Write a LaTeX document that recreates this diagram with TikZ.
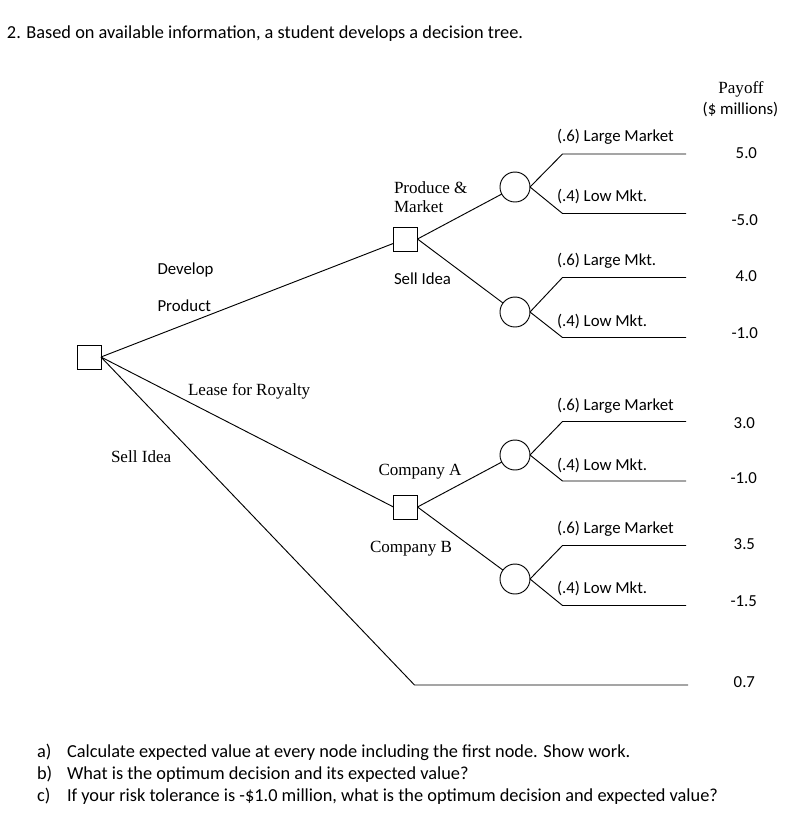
\documentclass[tikz,border=0pt]{standalone}
\usepackage{fontspec}
\setmainfont{Carlito}
\newfontfamily\serifft{Liberation Serif}
\begin{document}
\begin{tikzpicture}[x=0.75pt,y=-0.75pt,
  every node/.style={inner sep=0pt,outer sep=0pt},
  sq/.style={draw,rectangle,minimum size=18pt,line width=0.7pt},
  ch/.style={draw,circle,minimum size=22.5pt,line width=0.7pt},
  ln/.style={line width=0.7pt},
  lab/.style={anchor=base west,font=\fontsize{12.6}{15}\selectfont},
  big/.style={anchor=base west,font=\fontsize{13.75}{16}\selectfont},
  slab/.style={anchor=base west,font=\serifft\fontsize{12.8}{15}\selectfont},
  pay/.style={anchor=base east,font=\fontsize{12.6}{15}\selectfont}]
\useasboundingbox (0,0) rectangle (798,833);
\fill[white] (0,0) rectangle (798,833);

% title
\node[big] (title) at (7,38) {2. Based on available information, a student develops a decision tree.};

% header
\node[anchor=base,font=\serifft\fontsize{12.8}{15}\selectfont] (payoff) at (741,93) {Payoff};
\node[anchor=base,font=\fontsize{12.6}{15}\selectfont] (mill) at (740.5,114) {(\$ millions)};

% decision and chance nodes
\node[sq] (root) at (89,357) {};
\node[sq] (d1) at (405.5,239) {};
\node[sq] (d2) at (405.5,507) {};
\node[ch] (c1) at (515,187) {};
\node[ch] (c2) at (515,312) {};
\node[ch] (c3) at (515,455) {};
\node[ch] (c4) at (515,579) {};

% branch points
\coordinate (b1s) at (562.5,154); \coordinate (b1e) at (686,154);
\coordinate (b2s) at (562.5,213.5); \coordinate (b2e) at (686,213.5);
\coordinate (b3s) at (562.5,277.5); \coordinate (b3e) at (686,277.5);
\coordinate (b4s) at (562.5,337.5); \coordinate (b4e) at (686,337.5);
\coordinate (b5s) at (562.5,421.5); \coordinate (b5e) at (686,421.5);
\coordinate (b6s) at (562.5,481); \coordinate (b6e) at (686,481);
\coordinate (b7s) at (562.5,545.5); \coordinate (b7e) at (686,545.5);
\coordinate (b8s) at (562.5,605.5); \coordinate (b8e) at (686,605.5);
\coordinate (sis) at (414.5,685); \coordinate (sie) at (688,685);

% connectors
\draw[ln] (root.east) -- (d1.200);
\draw[ln] (root.east) -- (d2.west);
\draw[ln] (root.east) -- (sis) -- (sie);
\draw[ln] (d1.east) -- (c1);
\draw[ln] (d1.east) -- (c2);
\draw[ln] (d2.east) -- (c3);
\draw[ln] (d2.east) -- (c4);
\draw[ln] (c1.east) -- (b1s) -- (b1e);
\draw[ln] (c1.east) -- (b2s) -- (b2e);
\draw[ln] (c2.east) -- (b3s) -- (b3e);
\draw[ln] (c2.east) -- (b4s) -- (b4e);
\draw[ln] (c3.east) -- (b5s) -- (b5e);
\draw[ln] (c3.east) -- (b6s) -- (b6e);
\draw[ln] (c4.east) -- (b7s) -- (b7e);
\draw[ln] (c4.east) -- (b8s) -- (b8e);

% branch labels
\node[lab] (l1) at (557,141) {(.6) Large Market};
\node[lab] (l2) at (557,201) {(.4) Low Mkt.};
\node[lab] (l3) at (557,265) {(.6) Large Mkt.};
\node[lab] (l4) at (557,326) {(.4) Low Mkt.};
\node[lab] (l5) at (557,410) {(.6) Large Market};
\node[lab] (l6) at (557,470) {(.4) Low Mkt.};
\node[lab] (l7) at (557,533) {(.6) Large Market};
\node[lab] (l8) at (557,593) {(.4) Low Mkt.};

% payoffs
\node[pay] (p1) at (757,158) {5.0};
\node[pay] (p2) at (758,225) {-5.0};
\node[pay] (p3) at (757,281) {4.0};
\node[pay] (p4) at (758,338) {-1.0};
\node[pay] (p5) at (755,428) {3.0};
\node[pay] (p6) at (757,483) {-1.0};
\node[pay] (p7) at (755,549) {3.5};
\node[pay] (p8) at (757,606) {-1.5};
\node[pay] (p9) at (755,687) {0.7};

% decision labels
\node[slab] (pm1) at (394,193.5) {Produce \&};
\node[slab] (pm2) at (394,212.5) {Market};
\node[lab] (si1) at (394,284) {Sell Idea};
\node[lab] (dev) at (157.5,274) {Develop};
\node[lab] (prod) at (157.5,311) {Product};
\node[slab] (lease) at (188,395) {Lease for Royalty};
\node[slab] (si2) at (111,462) {Sell Idea};
\node[slab] (ca) at (378.5,475) {Company A};
\node[slab] (cb) at (370,552) {Company B};

% questions
\node[big] (qa) at (37,757) {a)};
\node[big] (qat) at (67,757) {Calculate expected value at every node including the first node. Show work.};
\node[big] (qb) at (37,779) {b)};
\node[big] (qbt) at (67,779) {What is the optimum decision and its expected value?};
\node[big] (qc) at (37,801) {c)};
\node[big] (qct) at (67,801) {If your risk tolerance is -\$1.0 million, what is the optimum decision and expected value?};
\end{tikzpicture}
\end{document}
